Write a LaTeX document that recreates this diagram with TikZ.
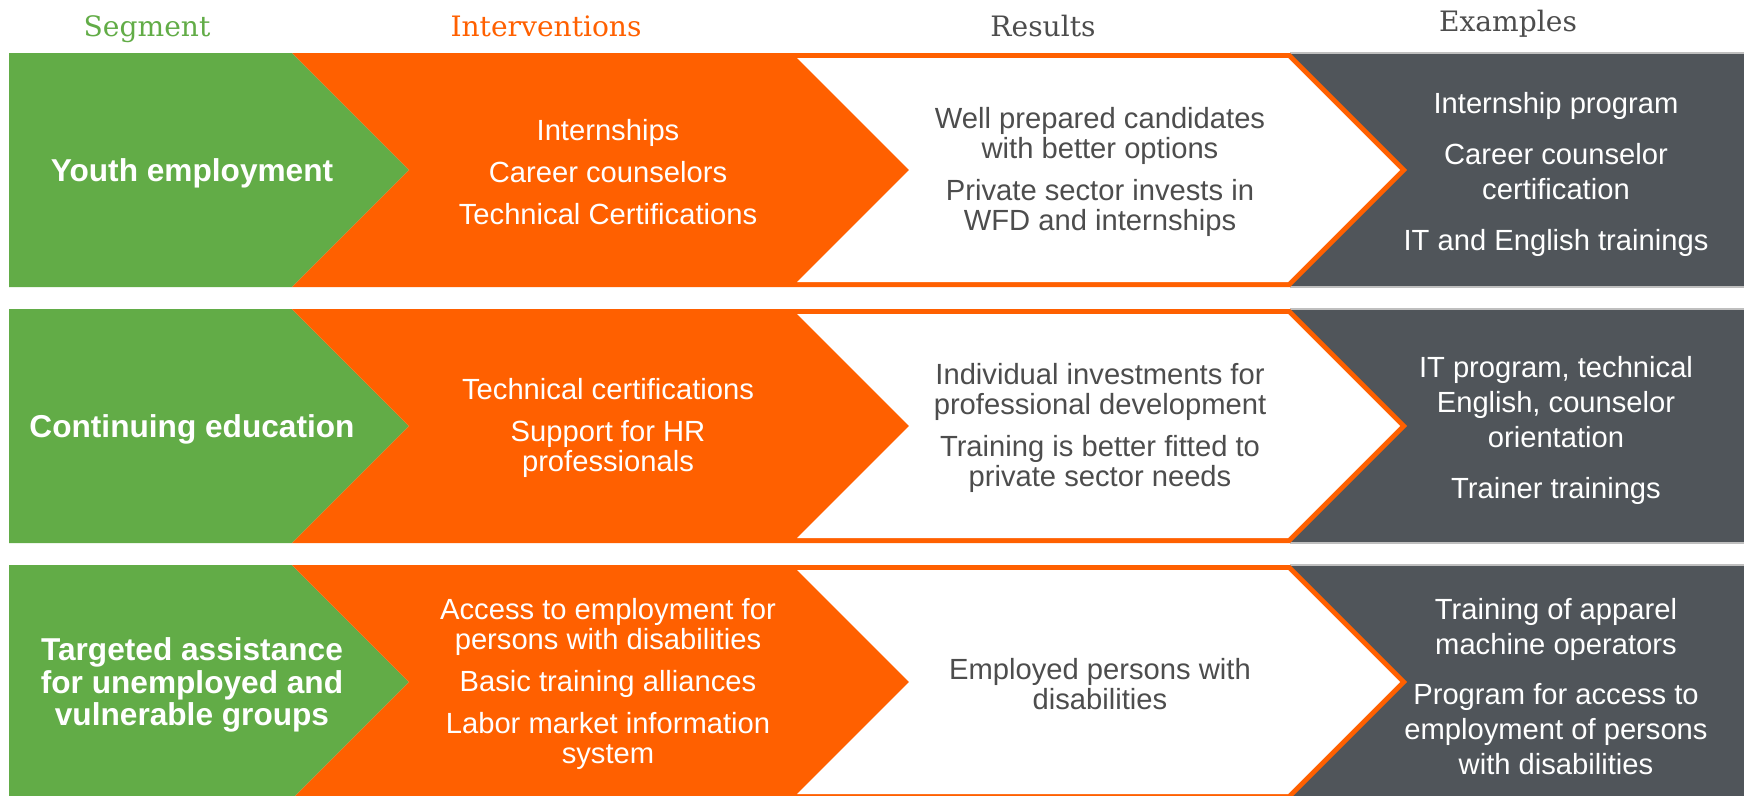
\documentclass[tikz,border=0pt]{standalone}
\usepackage{fontspec}
\setmainfont{Liberation Sans}
\newfontfamily\headfont{DejaVu Serif}
\definecolor{segmentgreen}{RGB}{98,172,71}
\definecolor{interorange}{RGB}{255,96,0}
\definecolor{examplegray}{RGB}{80,85,90}
\definecolor{textgray}{RGB}{77,77,77}

\tikzset{
  headtext/.style={anchor=base, font=\headfont\fontsize{8}{9}\selectfont},
  segtext/.style={text=white, align=center, yshift=-0.85pt, font=\fontsize{9}{9.2}\selectfont\bfseries},
  intertext/.style={text=white, align=center, yshift=-0.5pt, font=\fontsize{8.3}{8.55}\selectfont},
  restext/.style={text=textgray, align=center, yshift=-0.6pt, font=\fontsize{8.3}{8.55}\selectfont},
  extext/.style={text=white, align=center, yshift=-1.3pt, font=\fontsize{8.3}{9.96}\selectfont},
}

\begin{document}
\begin{tikzpicture}[x=0.1mm, y=-0.1mm]
\useasboundingbox (0,0) rectangle (1744,796);

% one chevron band per segment
\foreach \t/\b in {53/287, 309/543, 565/799}{
  \pgfmathsetmacro\m{(\t+\b)/2}
  \pgfmathsetmacro\h{(\b-\t)/2}
  \fill[examplegray] (1290,\t) rectangle (1744,\b);
  \draw[black!25, line width=0.3pt] (1290,\t) -- (1744,\t) (1290,\b) -- (1744,\b);
  \fill[segmentgreen] (9,\t) -- (292,\t) -- (292+\h,\m) -- (292,\b) -- (9,\b) -- cycle;
  \fill[interorange] (292,\t) -- (1290,\t) -- (1290+\h,\m) -- (1290,\b) -- (292,\b) -- (292+\h,\m) -- cycle;
  \fill[white] (797,\t+5) -- (1288,\t+5) -- (1283+\h,\m) -- (1288,\b-5) -- (797,\b-5) -- (792+\h,\m) -- cycle;
}

% column heads
\node[headtext, text=segmentgreen] (segHead) at (147,37) {Segment};
\node[headtext, text=interorange] (interHead) at (546,37) {Interventions};
\node[headtext, text=textgray] (resHead) at (1043,37) {Results};
\node[headtext, text=textgray] (exHead) at (1508,32) {Examples};

% youth employment
\node[segtext] (youth) at (192,170) {Youth employment};
\node[intertext] (youthInter) at (608,170) {Internships\\[3.4pt]Career counselors\\[3.4pt]Technical Certifications};
\node[restext] (youthRes) at (1100,170) {Well prepared candidates\\with better options\\[3.4pt]Private sector invests in\\WFD and internships};
\node[extext] (youthEx) at (1556,170) {Internship program\\[4.5pt]Career counselor\\certification\\[4.5pt]IT and English trainings};

% continuing education
\node[segtext] (contEd) at (192,426) {Continuing education};
\node[intertext] (contInter) at (608,426) {Technical certifications\\[3.4pt]Support for HR\\professionals};
\node[restext] (contRes) at (1100,426) {Individual investments for\\professional development\\[3.4pt]Training is better fitted to\\private sector needs};
\node[extext] (contEx) at (1556,426) {IT program, technical\\English, counselor\\orientation\\[4.5pt]Trainer trainings};

% targeted assistance
\node[segtext] (target) at (192,682) {Targeted assistance\\for unemployed and\\vulnerable groups};
\node[intertext] (targetInter) at (608,682) {Access to employment for\\persons with disabilities\\[3.4pt]Basic training alliances\\[3.4pt]Labor market information\\system};
\node[restext] (targetRes) at (1100,682) {Employed persons with\\disabilities};
\node[extext] (targetEx) at (1556,682) {Training of apparel\\machine operators\\[4.5pt]Program for access to\\employment of persons\\with disabilities};
\end{tikzpicture}
\end{document}
